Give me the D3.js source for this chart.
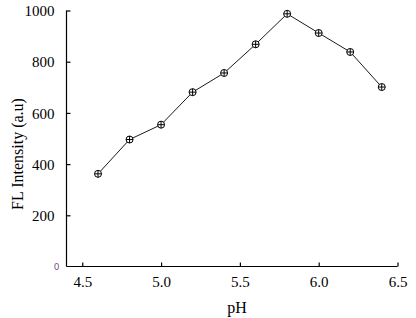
<!DOCTYPE html>
<html><head><meta charset="utf-8">
<script src="https://cdn.jsdelivr.net/npm/d3@7"></script>
<style>body{margin:0;background:#fff}svg{display:block}</style>
</head><body>
<script>
const phValues = [4.6, 4.8, 5.0, 5.2, 5.4, 5.6, 5.8, 6.0, 6.2, 6.4];
const intensity = [362, 496, 554, 681, 756, 868, 987, 912, 838, 701];
const xTicks = [4.5, 5.0, 5.5, 6.0, 6.5];
const yTicks = [200, 400, 600, 800, 1000];
const xTitle = "pH";
const yTitle = "FL Intensity (a.u)";

const W = 416, H = 318;
const svg = d3.select("body").append("svg").attr("width", W).attr("height", H);
const font = "'Liberation Serif','Times New Roman',serif";

const x = d3.scaleLinear().domain([4.4, 6.5]).range([66.5, 397.5]);
const y = d3.scaleLinear().domain([0, 1000]).range([266.5, 10.5]);

// axes
const xAxis = svg.append("g").attr("transform", `translate(0,${y(0)})`)
  .call(d3.axisBottom(x).tickValues(xTicks).tickSizeInner(-4).tickSizeOuter(0).tickPadding(10).tickFormat(d3.format(".1f")));
xAxis.select(".domain").attr("d", `M${x(4.4)},0H${x(6.5)}`);

const yAxis = svg.append("g").attr("transform", `translate(${x(4.4)},0)`)
  .call(d3.axisLeft(y).tickValues(yTicks).tickSizeInner(-4).tickSizeOuter(0).tickPadding(12).tickFormat(d3.format("d")));
yAxis.select(".domain").attr("d", `M0,${y(0)}V${y(1000)}`);
yAxis.selectAll("text").attr("dy", "0.35em");
[xAxis, yAxis].forEach(a => {
  a.attr("font-family", null).attr("font-size", null);
  a.selectAll("text").style("font-family", font).style("font-size", "15px").attr("fill", "#000");
});
svg.selectAll(".domain, .tick line").attr("stroke", "#000").attr("stroke-width", 1.2);

// small zero label
svg.append("text").attr("x", x(4.4) - 10).attr("y", y(0) + 3)
  .attr("text-anchor", "middle").attr("font-family", "DejaVu Sans, sans-serif")
  .attr("font-size", 9).attr("fill", "#7a5a8a").text("0");

// line
svg.append("path").datum(phValues.map((p, i) => [p, intensity[i]]))
  .attr("fill", "none").attr("stroke", "#000").attr("stroke-width", 0.9)
  .attr("d", d3.line().x(d => x(d[0])).y(d => y(d[1])));

// markers
const m = svg.append("g").selectAll("g").data(phValues.map((p, i) => [p, intensity[i]])).join("g")
  .attr("transform", d => `translate(${x(d[0])},${y(d[1])})`);
m.append("circle").attr("r", 3.5).attr("fill", "#fff").attr("stroke", "#000").attr("stroke-width", 1);
m.append("path").attr("d", "M-3.5,0H3.5M0,-3.5V3.5").attr("stroke", "#000").attr("stroke-width", 1);

// titles
svg.append("text").attr("x", 237).attr("y", 313).attr("text-anchor", "middle")
  .style("font-family", font).style("font-size", "16px").text(xTitle);
svg.append("text").attr("transform", "translate(23,154) rotate(-90)").attr("text-anchor", "middle")
  .style("font-family", font).style("font-size", "16px").text(yTitle);
</script>
</body></html>
